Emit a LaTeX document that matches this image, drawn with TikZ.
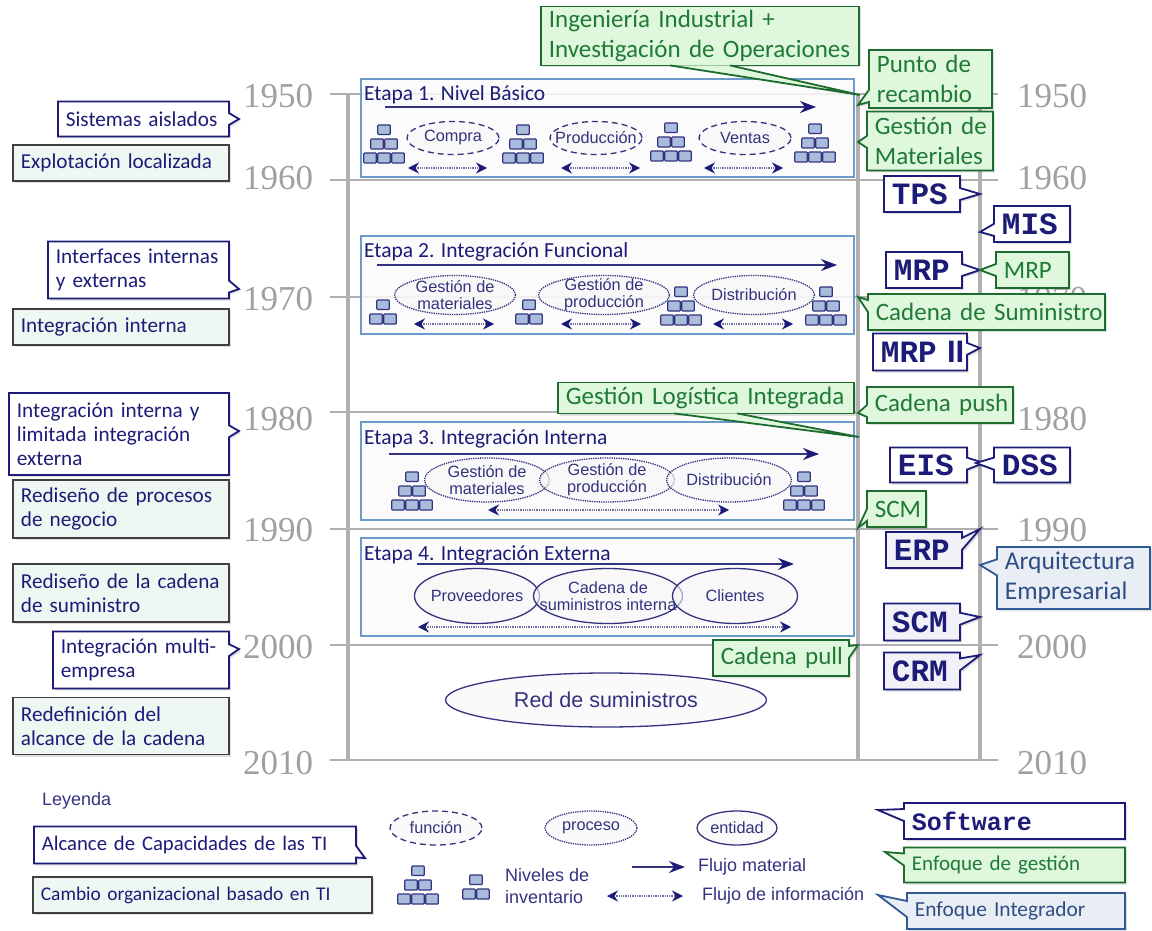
\documentclass[tikz,border=0pt]{standalone}
\usepackage{fontspec}
\setmainfont{Carlito}
\newfontfamily\arialf{Liberation Sans}
\newfontfamily\serifano{Liberation Serif}
\newfontfamily\monof{Liberation Mono}
\usetikzlibrary{shapes.geometric,shapes.callouts,shadows,arrows.meta}

\definecolor{azul}{HTML}{1C1C78}
\definecolor{azulelip}{HTML}{33337F}
\definecolor{verde}{HTML}{1D6B2D}
\definecolor{verdetxt}{HTML}{1F7A35}
\definecolor{verdefill}{HTML}{DFF7DC}
\definecolor{integ}{HTML}{2F5A96}
\definecolor{integtxt}{HTML}{2F4D85}
\definecolor{integfill}{HTML}{E9EEF5}
\definecolor{cambiofill}{HTML}{EEF7F2}
\definecolor{etapaborde}{HTML}{6A9BCB}
\definecolor{rejilla}{HTML}{B0B0B0}
\definecolor{anio}{HTML}{A0A0A0}
\definecolor{invfill}{HTML}{A9BCDC}

\tikzset{
  caja/.style = {draw, line width=1.8pt, anchor=west, align=left, inner xsep=8pt, inner ysep=0pt,
    drop shadow={opacity=.25, shadow xshift=2pt, shadow yshift=-2pt}},
  software/.style = {caja, rectangle callout, draw=azul, fill=white, text=azul,
    font=\monof\bfseries\fontsize{31}{34}\selectfont, callout pointer width=12pt},
  softclaro/.style = {software, fill=azul!6},
  alcance/.style = {caja, rectangle callout, draw=azul, fill=white, text=azul,
    font=\fontsize{21.2}{24}\selectfont, callout pointer width=12pt},
  cambio/.style = {caja, draw=black!75, fill=cambiofill, text=azul,
    font=\fontsize{21.2}{24}\selectfont},
  verdecaja/.style = {caja, draw=verde, fill=verdefill, text=verdetxt,
    font=\fontsize{25}{30}\selectfont},
  gestion/.style = {verdecaja, rectangle callout, callout pointer width=12pt},
  integrador/.style = {caja, rectangle callout, draw=integ, fill=integfill, text=integtxt,
    font=\fontsize{25.5}{30}\selectfont, callout pointer width=16pt},
  cuna/.style = {draw=verde, fill=verdefill, line width=1.8pt},
  etapa/.style = {draw=etapaborde, line width=1.6pt, fill=black!2, fill opacity=.85},
  titulo/.style = {anchor=west, inner sep=0pt, text=azul, font=\fontsize{21.5}{24}\selectfont},
  anotxt/.style = {inner sep=0pt, text=anio, font=\serifano\fontsize{35}{35}\selectfont},
  elip/.style = {ellipse, draw=azulelip, fill=black!3, fill opacity=.6, text opacity=1,
    inner xsep=-20pt, inner ysep=-10pt,
    align=center, text=azulelip, font=\arialf\fontsize{16.3}{22}\selectfont},
  funcion/.style = {elip, dashed, dash pattern=on 6pt off 4pt, line width=1.3pt},
  proceso/.style = {elip, densely dotted, line width=1.3pt},
  entidad/.style = {elip, line width=1.3pt},
  leyenda/.style = {anchor=west, inner sep=0pt, align=left, text=azulelip,
    font=\arialf\fontsize{18}{24}\selectfont},
  flujomat/.style = {draw=azulelip, line width=1.6pt, -{Stealth[length=16pt,width=12pt,color=azul,fill=azul]}},
  flujoinf/.style = {draw=azulelip!70, densely dotted, line width=1.3pt,
    {Stealth[length=11pt,width=11pt,color=azul,fill=azul]}-{Stealth[length=11pt,width=11pt,color=azul,fill=azul]}},
  invcaja/.style = {draw=azulelip, fill=invfill, line width=1.2pt, rounded corners=.8pt},
  inv3/.pic = {
    \draw[invcaja] (-6.2,0) rectangle (6.2,9.5);
    \foreach \x in {-7,7} \draw[invcaja] (\x-6.2,14) rectangle (\x+6.2,24);
    \foreach \x in {-14,0,14} \draw[invcaja] (\x-6.2,28) rectangle (\x+6.2,38);
  },
  inv2/.pic = {
    \draw[invcaja] (-6.2,0) rectangle (6.2,9.5);
    \foreach \x in {-7,7} \draw[invcaja] (\x-6.2,14) rectangle (\x+6.2,24);
  },
}

\begin{document}
\begin{tikzpicture}[x=1pt, y=-1pt]
  \useasboundingbox (0,0) rectangle (1152,931);

  % rejilla de anos
  \foreach \n/\y/\ty in {1950/94/96,1960/180/178,1970/297/299,1980/412/419,1990/529/530,2000/645/647,2010/760/763} {
    \node[anotxt] (izq\n) at (278,\ty) {\n};
    \node[anotxt] (der\n) at (1052,\ty) {\n};
    \coordinate (lin\n a) at (330,\y);
    \coordinate (lin\n b) at (998,\y);
    \draw[rejilla, line width=2.6pt] (lin\n a) -- (lin\n b);
  }
  \foreach \x in {348,858,980} {
    \coordinate (vert\x a) at (\x,94);
    \coordinate (vert\x b) at (\x,760);
    \draw[rejilla, line width=3.2pt] (vert\x a) -- (vert\x b);
  }

  % etapas
  \node[etapa, anchor=north west, minimum width=493pt, minimum height=98pt] (etapa1) at (360,78) {};
  \node[etapa, anchor=north west, minimum width=493pt, minimum height=98pt] (etapa2) at (360,235) {};
  \node[etapa, anchor=north west, minimum width=493pt, minimum height=98pt] (etapa3) at (360,421) {};
  \node[etapa, anchor=north west, minimum width=493pt, minimum height=98pt] (etapa4) at (360,537) {};

  \node[titulo] (tit1) at (364,95) {Etapa 1. Nivel Básico};
  \node[titulo] (tit2) at (364,252) {Etapa 2. Integración Funcional};
  \node[titulo] (tit3) at (364,439) {Etapa 3. Integración Interna};
  \node[titulo] (tit4) at (364,555) {Etapa 4. Integración Externa};

  % flujo material
  \foreach \n/\xa/\xb/\y in {a/385/816/107, b/377/837/265, c/389/819/454, d/417/794/564, e/632/685/867} {
    \coordinate (fm\n a) at (\xa,\y);
    \coordinate (fm\n b) at (\xb,\y);
    \draw[flujomat] (fm\n a) -- (fm\n b);
  }
  % flujo de informacion
  \foreach \n/\xa/\xb/\y in {a/408/487/168, b/561/640/168, c/704/783/168, d/414/494/324, e/561/641/324,
      f/713/793/324, g/488/729/510, h/418/791/627, i/607/683/896} {
    \coordinate (fi\n a) at (\xa,\y);
    \coordinate (fi\n b) at (\xb,\y);
    \draw[flujoinf] (fi\n a) -- (fi\n b);
  }

  % inventarios
  \foreach \x/\y in {384/125, 523/125, 671/123, 815/124, 681/287, 826/287, 412/472, 804/472, 418/866} {
    \pic at (\x,\y) {inv3};
  }
  \foreach \x/\y in {383/300, 529/300, 476/875} {
    \pic at (\x,\y) {inv2};
  }

  % funciones, procesos y entidades
  \node[funcion, minimum width=92pt, minimum height=33pt] (compra) at (453,138) {Compra};
  \node[funcion, minimum width=92pt, minimum height=33pt] (prod) at (596,138) {Producción};
  \node[funcion, minimum width=92pt, minimum height=33pt] (ventas) at (745,138) {Ventas};

  \node[proceso, minimum width=121pt, minimum height=39pt] (gmat2) at (455,295) {Gestión de\\[-5pt]materiales};
  \node[proceso, minimum width=131pt, minimum height=39pt] (gprod2) at (604,295) {Gestión de\\[-5pt]producción};
  \node[proceso, minimum width=121pt, minimum height=39pt] (dist2) at (754,295) {Distribución};

  \node[proceso, minimum width=125pt, minimum height=44pt] (gmat3) at (487,480) {Gestión de\\[-5pt]materiales};
  \node[proceso, minimum width=135pt, minimum height=44pt] (gprod3) at (607,480) {Gestión de\\[-5pt]producción};
  \node[proceso, minimum width=125pt, minimum height=44pt] (dist3) at (729,480) {Distribución};

  \node[entidad, minimum width=125pt, minimum height=55pt] (prov) at (477,596) {Proveedores};
  \node[entidad, minimum width=149pt, minimum height=55pt] (cadint) at (608,596) {Cadena de\\[-5pt]suministros interna};
  \node[entidad, minimum width=125pt, minimum height=55pt] (cli) at (735,596) {Clientes};

  \node[entidad, minimum width=321pt, minimum height=54pt, font=\arialf\fontsize{21.5}{24}\selectfont] (red) at (606,700) {Red de suministros};

  % columna izquierda
  \node[alcance, text width=155pt, minimum height=35pt, callout absolute pointer={(239,119)}] (sist) at (57,119) {Sistemas aislados};
  \node[cambio, text width=200pt, minimum height=36pt] (expl) at (12,163) {Explotación localizada};
  \node[alcance, text width=165pt, minimum height=57pt, callout absolute pointer={(239,289)}] (interf) at (47,270) {Interfaces internas\\y externas};
  \node[cambio, text width=200pt, minimum height=36pt] (intint) at (12,327) {Integración interna};
  \node[alcance, text width=204pt, minimum height=82pt, callout absolute pointer={(239,431)}] (intlim) at (8,434) {Integración interna y\\limitada integración\\externa};
  \node[cambio, text width=200pt, minimum height=58pt] (redpro) at (12,509) {Rediseño de procesos\\de negocio};
  \node[cambio, text width=200pt, minimum height=58pt] (redcad) at (12,593) {Rediseño de la cadena\\de suministro};
  \node[alcance, text width=160pt, minimum height=57pt, callout absolute pointer={(239,649)}] (multi) at (52,660) {Integración multi-\\empresa};
  \node[cambio, text width=200pt, minimum height=57pt] (redef) at (12,726) {Redefinición del\\alcance de la cadena};

  % columna derecha
  \node[verdecaja, text width=302pt, minimum height=59pt] (ingen) at (540,36) {Ingeniería Industrial +\\Investigación de Operaciones};
  \path (ingen.south west) ++(130,-1) coordinate (ingena) ++(60,0) coordinate (ingenb);
  \coordinate (ingent) at (860,95);
  \draw[cuna] (ingena) -- (ingent) -- (ingenb);
  \node[gestion, text width=107pt, minimum height=58pt, callout absolute pointer={(858,105)}] (punto) at (868,79) {Punto de\\recambio};
  \node[gestion, text width=110pt, minimum height=59pt, callout absolute pointer={(858,142)}] (gmat) at (866,141) {\mbox{Gestión de}\\\mbox{Materiales}};
  \node[software, text width=60pt, minimum height=36pt, callout absolute pointer={(980,194)}] (tps) at (883,194) {TPS};
  \node[software, text width=60pt, minimum height=36pt, callout absolute pointer={(980,232)}] (mis) at (993,224) {MIS};
  \node[software, text width=60pt, minimum height=36pt, callout absolute pointer={(980,270)}] (mrp) at (885,270) {MRP};
  \node[gestion, text width=57pt, minimum height=36pt, callout absolute pointer={(980,270)}] (mrpg) at (995,270) {MRP};
  \node[gestion, text width=221pt, minimum height=36pt, callout absolute pointer={(858,297)}] (cadsum) at (867,312) {\mbox{Cadena de Suministro}};
  \node[software, text width=78pt, minimum height=37pt, callout absolute pointer={(980,348)}] (mrpii) at (872,352) {\mbox{MRP{\arialf\bfseries\ II}}};
  \node[verdecaja, text width=280pt, minimum height=31pt] (glog) at (557,398) {Gestión Logística Integrada};
  \path (glog.south west) ++(117,-1) coordinate (gloga) ++(63,0) coordinate (glogb);
  \coordinate (glogt) at (859,437);
  \draw[cuna] (gloga) -- (glogt) -- (glogb);
  \node[gestion, text width=130pt, minimum height=36pt, callout absolute pointer={(858,413)}] (push) at (866,405) {\mbox{Cadena push}};
  \node[software, text width=61pt, minimum height=35pt, callout absolute pointer={(984,463)}] (eis) at (889,465) {EIS};
  \node[software, text width=60pt, minimum height=35pt, callout absolute pointer={(976,463)}] (dss) at (993,465) {DSS};
  \node[gestion, text width=43pt, minimum height=36pt, callout absolute pointer={(858,528)}] (scmg) at (866,509) {SCM};
  \node[softclaro, text width=60pt, minimum height=36pt, callout absolute pointer={(980,529)}] (erp) at (885,550) {ERP};
  \node[integrador, text width=137pt, minimum height=62pt, callout absolute pointer={(980,565)}] (arq) at (996,578) {Arquitectura\\Empresarial};
  \node[softclaro, text width=60pt, minimum height=37pt, callout absolute pointer={(980,617)}] (scm) at (883,622) {SCM};
  \node[gestion, text width=120pt, minimum height=36pt, callout absolute pointer={(858,645)}] (pull) at (712,658) {\mbox{Cadena pull}};
  \node[softclaro, text width=60pt, minimum height=37pt, callout absolute pointer={(980,655)}] (crm) at (883,671) {CRM};

  % leyenda
  \node[leyenda] (ley) at (42,801) {Leyenda};
  \node[alcance, font=\fontsize{20.7}{24}\selectfont, text width=306pt, minimum height=37pt, callout absolute pointer={(365,858)}] (lalc) at (33,845) {Alcance de Capacidades de las TI};
  \node[cambio, font=\fontsize{19.4}{24}\selectfont, text width=323pt, minimum height=36pt] (lcam) at (32,895) {Cambio organizacional basado en TI};
  \node[funcion, minimum width=92pt, minimum height=34pt] (lfun) at (436,828) {función};
  \node[proceso, minimum width=92pt, minimum height=34pt] (lpro) at (591,828) {proceso};
  \node[entidad, minimum width=80pt, minimum height=34pt] (lent) at (737,828) {entidad};
  \node[leyenda, font=\arialf\fontsize{18}{22}\selectfont] (lniv) at (505,886) {Niveles de\\inventario};
  \node[leyenda] (lmat) at (698,867) {Flujo material};
  \node[leyenda] (linf) at (702,896) {Flujo de información};
  \node[software, font=\monof\bfseries\fontsize{25}{28}\selectfont, text width=205pt, minimum height=36pt, callout absolute pointer={(878,810)}] (lsof) at (903,821) {Software};
  \node[gestion, font=\fontsize{21}{24}\selectfont, text width=205pt, minimum height=35pt, callout absolute pointer={(885,852)}] (lges) at (903,865) {Enfoque de gestión};
  \node[integrador, font=\fontsize{21.4}{24}\selectfont, text width=202pt, minimum height=36pt, callout absolute pointer={(878,895)}] (lint) at (906,911) {Enfoque Integrador};
\end{tikzpicture}
\end{document}
